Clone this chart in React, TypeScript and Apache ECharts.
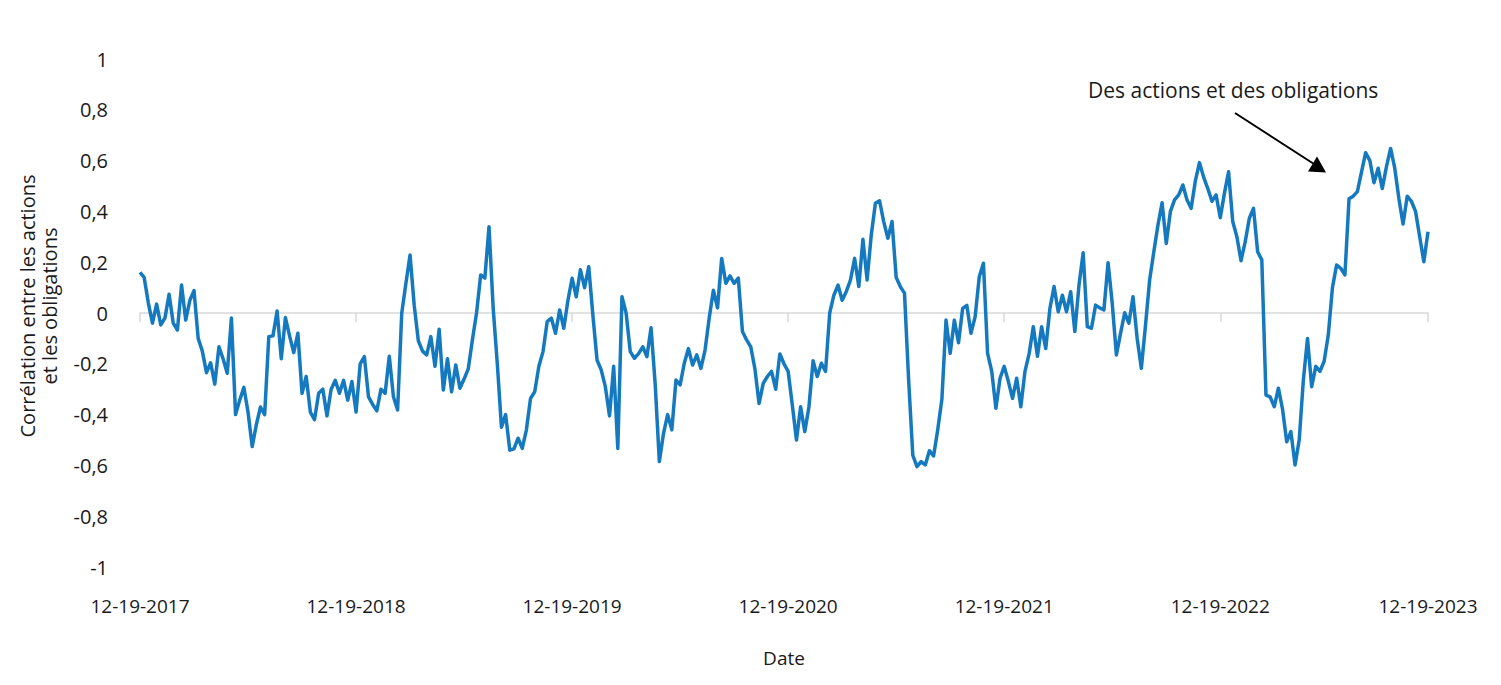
import React, { useEffect, useRef } from "react";
import * as echarts from "echarts";

const tickLabels = ["12-19-2017", "12-19-2018", "12-19-2019", "12-19-2020", "12-19-2021", "12-19-2022", "12-19-2023"];
const tickIndex = [0, 52, 104, 156, 208, 260, 310];

const correlation = [
  0.16, 0.14, 0.04, -0.04, 0.035, -0.047, -0.02, 0.074, -0.04, -0.067,
  0.11, -0.028, 0.05, 0.088, -0.1, -0.15, -0.235, -0.196, -0.28, -0.133,
  -0.18, -0.237, -0.02, -0.4, -0.343, -0.293, -0.39, -0.526, -0.44, -0.37,
  -0.4, -0.093, -0.09, 0.008, -0.18, -0.018, -0.09, -0.156, -0.08, -0.316,
  -0.25, -0.39, -0.42, -0.316, -0.3, -0.405, -0.3, -0.265, -0.316, -0.265,
  -0.343, -0.27, -0.39, -0.2, -0.172, -0.33, -0.36, -0.385, -0.3, -0.316,
  -0.17, -0.33, -0.382, 0.0, 0.117, 0.228, 0.03, -0.11, -0.15, -0.165,
  -0.093, -0.21, -0.064, -0.303, -0.18, -0.31, -0.205, -0.296, -0.26, -0.22,
  -0.106, 0.0, 0.15, 0.137, 0.34, 0.02, -0.2, -0.45, -0.4, -0.54,
  -0.535, -0.493, -0.533, -0.46, -0.336, -0.31, -0.21, -0.152, -0.034, -0.02,
  -0.08, 0.012, -0.06, 0.05, 0.137, 0.064, 0.17, 0.1, 0.182, -0.008,
  -0.185, -0.224, -0.29, -0.405, -0.21, -0.533, 0.064, 0.0, -0.152, -0.178,
  -0.16, -0.133, -0.172, -0.058, -0.28, -0.585, -0.474, -0.4, -0.46, -0.264,
  -0.283, -0.198, -0.14, -0.205, -0.165, -0.218, -0.146, -0.02, 0.09, 0.02,
  0.215, 0.117, 0.146, 0.117, 0.137, -0.073, -0.106, -0.133, -0.22, -0.356,
  -0.277, -0.25, -0.23, -0.3, -0.161, -0.2, -0.23, -0.362, -0.5, -0.369,
  -0.467, -0.37, -0.188, -0.25, -0.198, -0.23, 0.0, 0.07, 0.11, 0.05,
  0.085, 0.13, 0.215, 0.104, 0.29, 0.13, 0.307, 0.432, 0.442, 0.36,
  0.294, 0.36, 0.14, 0.104, 0.078, -0.264, -0.56, -0.605, -0.585, -0.598,
  -0.542, -0.563, -0.46, -0.34, -0.028, -0.159, -0.028, -0.117, 0.018, 0.03,
  -0.08, -0.015, 0.143, 0.196, -0.159, -0.23, -0.375, -0.257, -0.21, -0.27,
  -0.336, -0.257, -0.369, -0.23, -0.16, -0.054, -0.17, -0.054, -0.14, 0.018,
  0.104, 0.005, 0.07, 0.005, 0.084, -0.073, 0.11, 0.237, -0.054, -0.06,
  0.031, 0.02, 0.012, 0.198, 0.038, -0.165, -0.08, 0.001, -0.04, 0.064,
  -0.1, -0.218, -0.05, 0.13, 0.24, 0.346, 0.434, 0.274, 0.4, 0.445,
  0.465, 0.504, 0.445, 0.412, 0.52, 0.592, 0.535, 0.49, 0.44, 0.465,
  0.375, 0.471, 0.556, 0.36, 0.3, 0.206, 0.28, 0.373, 0.412, 0.241,
  0.209, -0.323, -0.33, -0.369, -0.296, -0.38, -0.507, -0.467, -0.598, -0.5,
  -0.264, -0.1, -0.29, -0.21, -0.23, -0.19, -0.087, 0.1, 0.189, 0.176,
  0.15, 0.45, 0.46, 0.478, 0.556, 0.631, 0.6, 0.513, 0.57, 0.49,
  0.576, 0.648, 0.57, 0.45, 0.35, 0.46, 0.44, 0.4, 0.3, 0.202,
  0.32,
];

const weeks = correlation.map((_, i) => String(i));

const yTitle = "Corrélation entre les actions\net les obligations";
const xTitle = "Date";
const annotation = "Des actions et des obligations";

const FONT = "'Open Sans', sans-serif";
const TEXT = "#1a1a1a";

export default function App() {
  const ref = useRef<HTMLDivElement>(null);
  useEffect(() => {
    document.body.style.margin = "0";
    const chart = echarts.init(ref.current!, null, { renderer: "svg" });
    const isTick = (i: number) => tickIndex.indexOf(i) >= 0;
    chart.setOption({
      animation: false,
      backgroundColor: "#ffffff",
      grid: { left: 140, right: 73, top: 59, bottom: 118 },
      xAxis: [
        {
          type: "category",
          data: weeks,
          boundaryGap: false,
          position: "bottom",
          axisLine: { show: false, onZero: false },
          axisTick: { show: false },
          axisLabel: {
            interval: (i: number) => isTick(i),
            formatter: (v: string) => tickLabels[tickIndex.indexOf(Number(v))] ?? "",
            margin: 29,
            fontSize: 19,
            color: TEXT,
            fontFamily: FONT,
          },
          name: xTitle,
          nameLocation: "middle",
          nameGap: 81,
          nameTextStyle: { fontSize: 19, color: TEXT, fontFamily: FONT },
        },
        {
          type: "category",
          data: weeks,
          boundaryGap: false,
          position: "top",
          axisLine: { show: true, onZero: true, lineStyle: { color: "#d9d9d9", width: 1.5 } },
          axisTick: { show: true, inside: true, length: 9, interval: (i: number) => isTick(i), lineStyle: { color: "#d9d9d9", width: 1.5 } },
          axisLabel: { show: false },
          splitLine: { show: false },
        },
      ],
      yAxis: {
        type: "value",
        min: -1,
        max: 1,
        interval: 0.2,
        axisLine: { show: false },
        axisTick: { show: false },
        splitLine: { show: false },
        axisLabel: {
          margin: 32,
          fontSize: 20,
          color: TEXT,
          fontFamily: FONT,
          formatter: (v: number) => String(Number(v.toFixed(1))).replace(".", ","),
        },
      },
      graphic: [
        {
          type: "text",
          x: 38,
          y: 306,
          rotation: Math.PI / 2,
          style: {
            text: yTitle,
            fontSize: 20,
            lineHeight: 22,
            fill: TEXT,
            fontFamily: FONT,
            align: "center",
            verticalAlign: "middle",
          },
        },
        {
          type: "text",
          x: 1088,
          y: 90,
          style: {
            text: annotation,
            fontSize: 21,
            fill: TEXT,
            fontFamily: FONT,
            align: "left",
            verticalAlign: "middle",
          },
        },
        {
          type: "line",
          shape: { x1: 1235, y1: 113, x2: 1314, y2: 164 },
          style: { stroke: "#000000", lineWidth: 2 },
        },
        {
          type: "polygon",
          shape: { points: [[1326, 172.5], [1308, 171.5], [1317, 156.5]] },
          style: { fill: "#000000" },
        },
      ],
      series: [
        {
          type: "line",
          data: correlation,
          xAxisIndex: 0,
          yAxisIndex: 0,
          showSymbol: false,
          symbol: "none",
          lineStyle: { color: "#1579bf", width: 3.5, join: "round" },
        },
      ],
    });
    return () => chart.dispose();
  }, []);
  return <div ref={ref} style={{ position: "absolute", left: 0, top: 0, width: 1501, height: 685 }} />;
}
